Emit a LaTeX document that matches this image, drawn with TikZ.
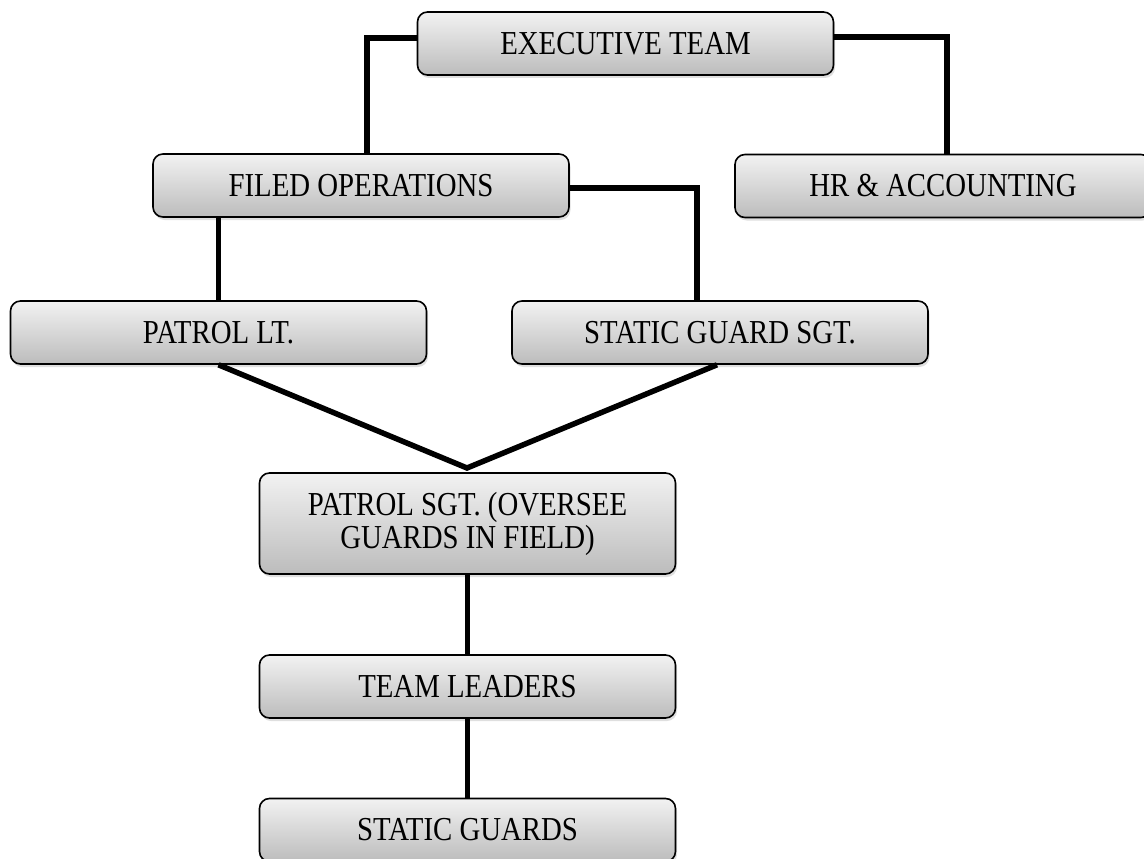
\documentclass[tikz,border=0pt]{standalone}
\usepackage{fontspec}
\setmainfont{Liberation Serif}[FakeStretch=0.86]
\usetikzlibrary{shadows,calc}
\definecolor{boxtop}{RGB}{242,242,242}
\definecolor{boxbot}{RGB}{188,188,188}
\tikzset{
  orgbox/.style={draw=black, line width=1.6pt, rounded corners=10pt,
    top color=boxtop, bottom color=boxbot,
    minimum width=416pt, minimum height=63pt, inner sep=0pt,
    align=center, font=\fontsize{33.5}{33}\selectfont,
    drop shadow={opacity=0.25, shadow xshift=1.5pt, shadow yshift=-3pt}},
  link/.style={line width=5.5pt, draw=black, line join=miter}
}
\begin{document}
\begin{tikzpicture}[x=1pt,y=-1pt]
\useasboundingbox (0,0) rectangle (1144,859);
\coordinate (apex) at (467,468);
% nodes
\node[orgbox] (exec) at (625.5,43.5) {EXECUTIVE TEAM};
\node[orgbox] (filed) at (361,185.5) {FILED OPERATIONS};
\node[orgbox] (hr) at (943,186) {HR \& ACCOUNTING};
\node[orgbox] (plt) at (218.5,332.5) {PATROL LT.};
\node[orgbox] (ssgt) at (720,332.5) {STATIC GUARD SGT.};
\node[orgbox, minimum height=101pt] (psgt) at (467.5,523.5) {PATROL SGT. (OVERSEE\\GUARDS IN FIELD)};
\node[orgbox] (tl) at (467.5,686.5) {TEAM LEADERS};
\node[orgbox] (sg) at (467.5,830) {STATIC GUARDS};
% connectors
\draw[link] ([yshift=5.5pt]exec.west) -| ([xshift=6pt]filed.north);
\draw[link] ([yshift=6.5pt]exec.east) -| ([xshift=4pt]hr.north);
\draw[link] ([yshift=-2.5pt]filed.east) -| ([xshift=-23pt]ssgt.north);
\draw[link] (plt.north) -- (plt.north |- filed.south);
\draw[link] (plt.south) -- (apex) -- ([xshift=-3pt]ssgt.south);
\draw[link] (psgt.south) -- (tl.north);
\draw[link] (tl.south) -- (sg.north);
\end{tikzpicture}
\end{document}
